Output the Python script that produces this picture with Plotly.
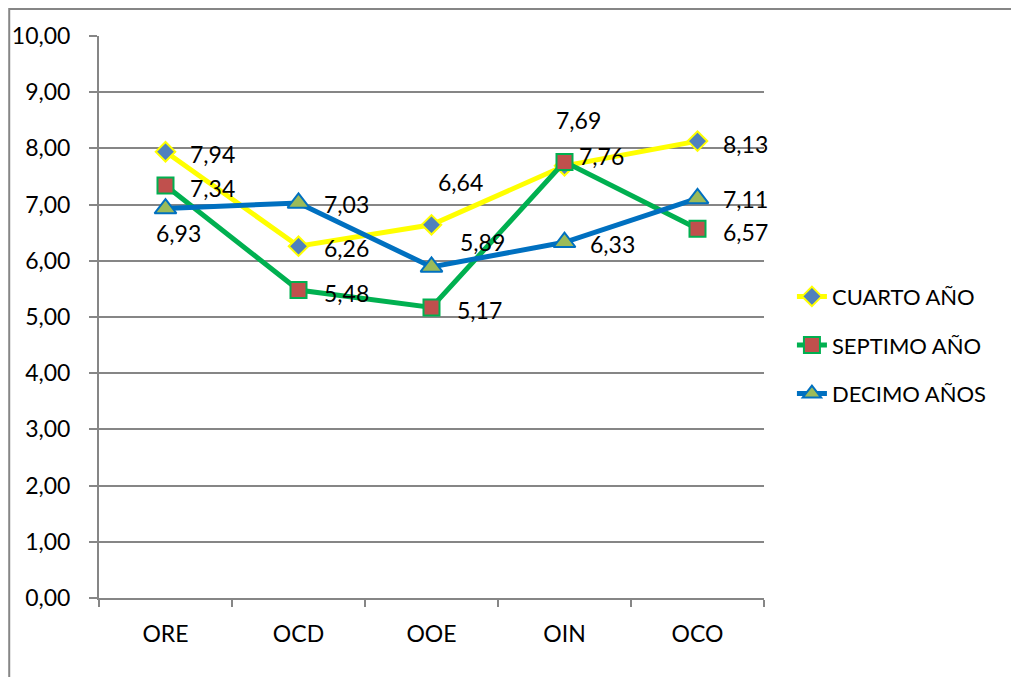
import plotly.graph_objects as go

# data
categorias = ["ORE", "OCD", "OOE", "OIN", "OCO"]
cuarto = [7.94, 6.26, 6.64, 7.69, 8.13]
septimo = [7.34, 5.48, 5.17, 7.76, 6.57]
decimo = [6.93, 7.03, 5.89, 6.33, 7.11]
y_ticks = [0, 1, 2, 3, 4, 5, 6, 7, 8, 9, 10]

FONT = "Lato"
FSIZE = 23
GRID = "#868686"

# label offsets (pixels) for every data label, as in the original
off_cuarto = [(47, -2), (48, -2), (29, 43), (14, 46), (48, -3)]
off_septimo = [(47, -3), (48, -3), (48, -3), (37, 6), (48, -3)]
off_decimo = [(13, -24), (48, -1), (51, 25), (48, -2), (48, -1)]

fig = go.Figure()

series = [
    ("CUARTO AÑO", cuarto, "#FFFF00", dict(symbol="diamond", size=15, color="#4F81BD",
                                          line=dict(color="#FFFF00", width=2))),
    ("SEPTIMO AÑO", septimo, "#00B050", dict(symbol="square", size=16, color="#C0504D",
                                            line=dict(color="#00B050", width=2))),
    ("DECIMO AÑOS", decimo, "#0070C0", dict(symbol="triangle-up", size=19, color="#9BBB59",
                                           line=dict(color="#0070C0", width=2))),
]
for i, (name, vals, col, mk) in enumerate(series):
    fig.add_trace(go.Scatter(x=categorias, y=vals, name=name, mode="lines+markers",
                             line=dict(color=col, width=5), marker=mk,
                             legendgroup=str(i)))

# data labels
for vals, offs in [(cuarto, off_cuarto), (septimo, off_septimo), (decimo, off_decimo)]:
    for c, v, (dx, dy) in zip(categorias, vals, offs):
        fig.add_annotation(x=c, y=v, xref="x", yref="y", text=f"{v:.2f}".replace(".", ","),
                           showarrow=False, xshift=dx, yshift=dy,
                           font=dict(family=FONT, size=FSIZE, color="black"))

# outer chart border
fig.add_shape(type="rect", xref="paper", yref="paper", x0=-0.135, x1=1.5, y0=-0.3, y1=1.048,
              line=dict(color=GRID, width=2), layer="below")

fig.update_layout(
    width=1011, height=677,
    margin=dict(l=97, r=247, t=36, b=79),
    paper_bgcolor="white", plot_bgcolor="white",
    separators=",.",
    font=dict(family=FONT, size=FSIZE, color="black"),
    showlegend=True,
    legend=dict(x=1.042, xanchor="left", y=0.45, yanchor="middle",
                font=dict(family=FONT, size=22), tracegroupgap=17,
                bgcolor="rgba(0,0,0,0)"),
)
fig.update_xaxes(type="category", range=[-0.5, 4.5], showgrid=False,
                 showline=True, linecolor=GRID, linewidth=2,
                 ticks="outside", tickson="boundaries", ticklen=7, tickcolor=GRID, tickwidth=2,
                 ticklabelstandoff=14)
fig.update_yaxes(range=[0, 10], tickvals=y_ticks, tickformat=".2f",
                 showgrid=True, gridcolor=GRID, gridwidth=1.5,
                 showline=True, linecolor=GRID, linewidth=2, zeroline=False,
                 ticks="outside", ticklen=8, tickcolor=GRID, tickwidth=2,
                 ticklabelstandoff=14)

# page body has a default margin; drop it so the figure sits at the corner
fig.write_html("out.html", config={"displayModeBar": False},
               post_script="document.body.style.margin='0px';")
